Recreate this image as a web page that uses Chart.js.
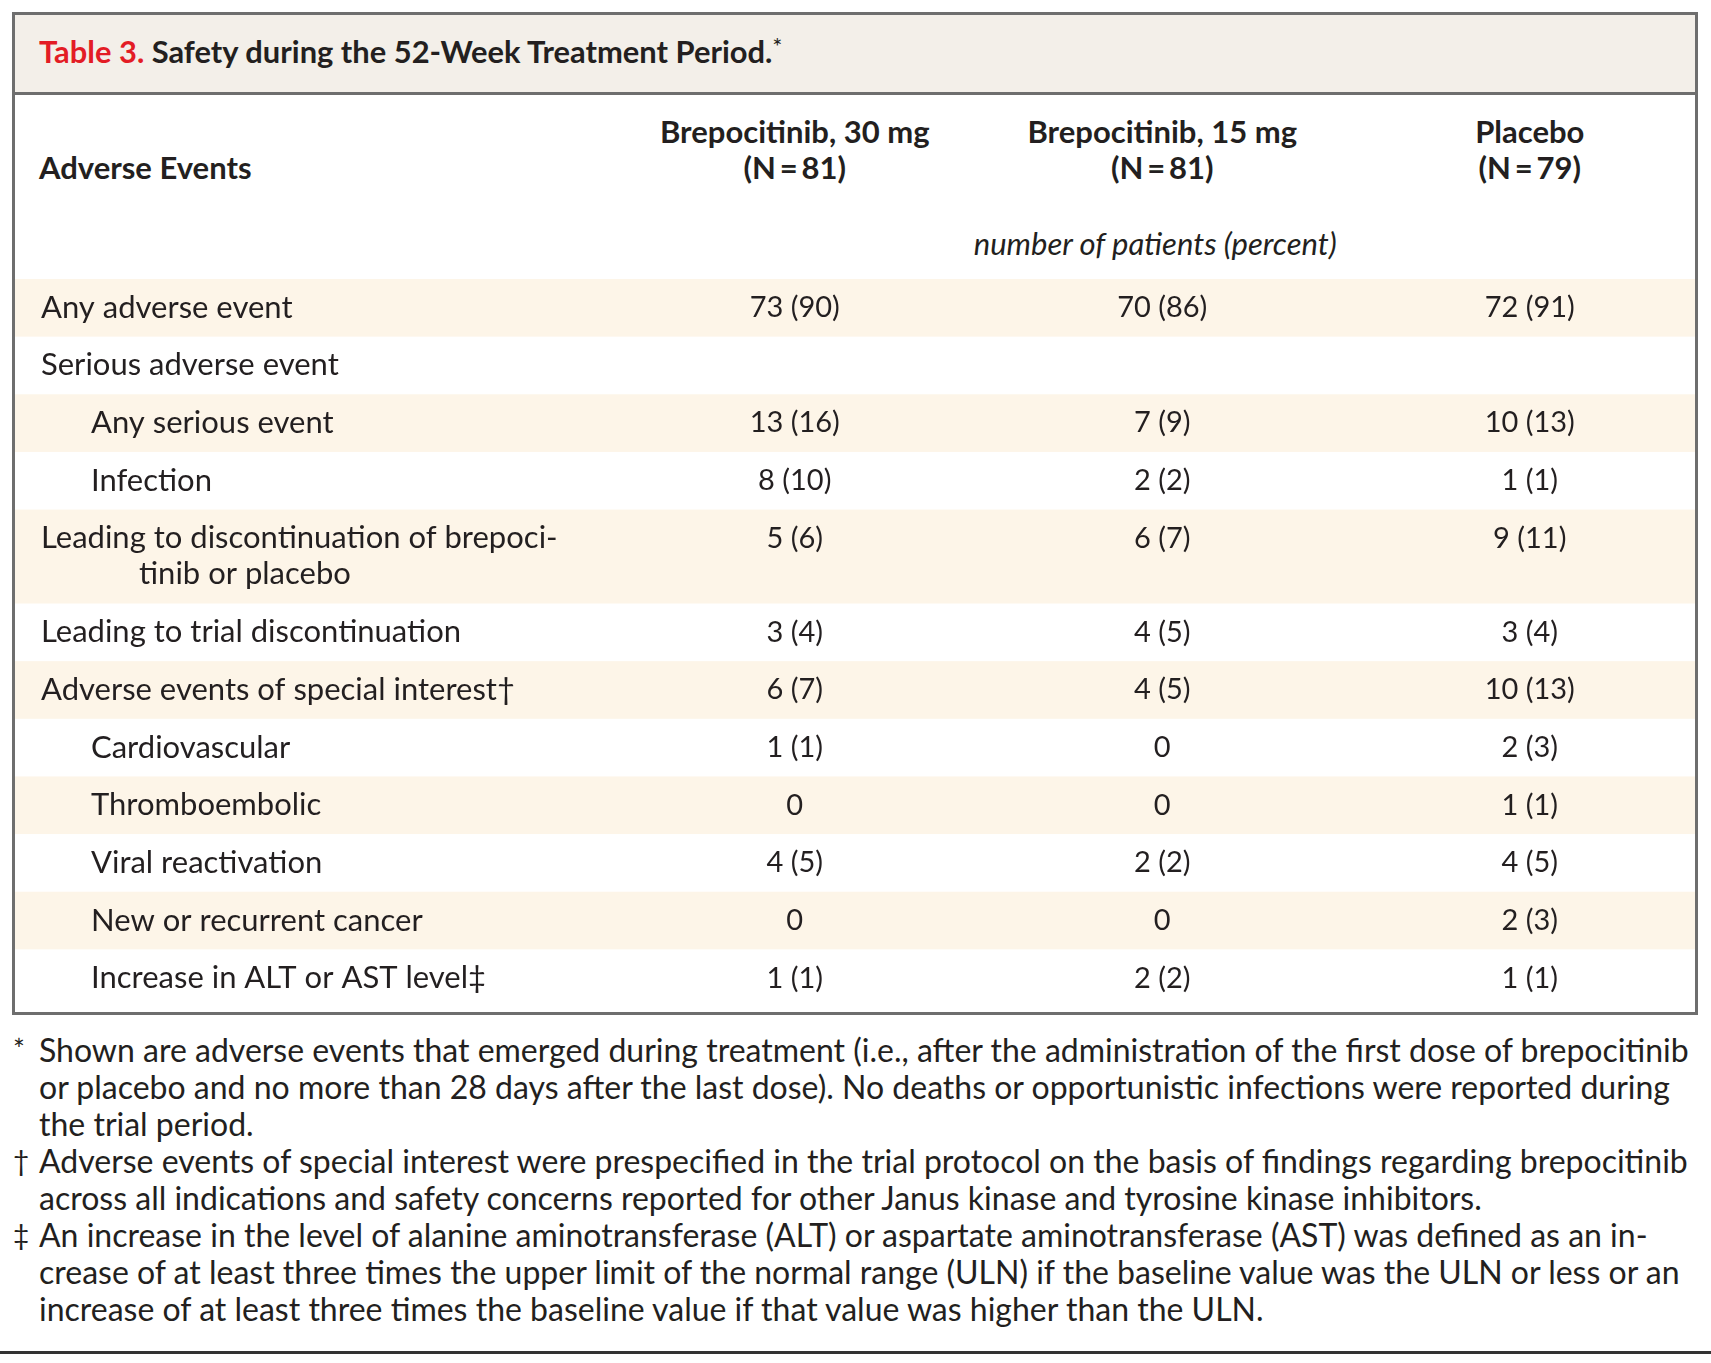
<!DOCTYPE html>
<html>
<head>
<meta charset="utf-8">
<script src="https://cdn.jsdelivr.net/npm/chart.js@4.4.1/dist/chart.umd.min.js"></script>
<style>
  html, body { margin: 0; padding: 0; overflow: hidden; background: #fff; }
  body { position: relative; width: 1711px; height: 1363px; font-family: Lato, "Open Sans", sans-serif; color: #231f20; }
  #box { position: absolute; left: 12px; top: 12px; width: 1686px; height: 1003px; border: 3px solid #6e6e6e; box-sizing: border-box; }
  #band { position: absolute; left: 0; top: 0; right: 0; height: 77px; background: #f3efe9; border-bottom: 3px solid #6e6e6e; }
  #title { position: absolute; left: 39px; top: 31px; font-size: 31px; line-height: 40px; font-weight: 700; white-space: nowrap; transform-origin: 0 50%; }
  #title .num { color: #e31c25; }
  #title sup { font-size: 24px; font-weight: 400; vertical-align: 8px; line-height: 0; }
  .hdr { position: absolute; font-size: 31px; line-height: 36px; font-weight: 700; white-space: nowrap; }
  .colhdr { width: 500px; text-align: center; top: 113px; }
  #note { position: absolute; top: 225px; width: 500px; text-align: center; font-style: italic; font-size: 31px; line-height: 36px; white-space: nowrap; }
  #chartWrap { position: absolute; left: 0; top: 279px; width: 1716px; height: 728px; }
  #foot { position: absolute; left: 13px; top: 1031px; font-size: 32px; line-height: 37px; }
  #foot .ln { position: relative; padding-left: 26px; white-space: nowrap; }
  #foot .mk { position: absolute; left: 0; top: 0; font-size: 28px; }
  #rule { position: absolute; left: 0; top: 1351px; width: 1711px; height: 3px; background: #333; }
</style>
</head>
<body>
<div id="box"><div id="band"></div></div>
<div id="title"><span class="num">Table 3.</span> Safety during the 52-Week Treatment Period.<sup>*</sup></div>
<div class="hdr" style="left:39px; top:149px;">Adverse Events</div>
<div id="colHeaders"></div>
<div id="note">number of patients (percent)</div>
<div id="chartWrap"><canvas id="tableChart" width="1716" height="728"></canvas></div>
<div id="foot"></div>
<div id="rule"></div>

<script>
// Treatment groups (columns)
const groups = ['Brepocitinib, 30 mg', 'Brepocitinib, 15 mg', 'Placebo'];
const groupN = [81, 81, 79];

// Rows: label lines and nesting level
const rowLabels = [
    ['Any adverse event'],
    ['Serious adverse event'],
    ['Any serious event'],
    ['Infection'],
    ['Leading to discontinuation of brepoci-', 'tinib or placebo'],
    ['Leading to trial discontinuation'],
    ['Adverse events of special interest\u2020'],
    ['Cardiovascular'],
    ['Thromboembolic'],
    ['Viral reactivation'],
    ['New or recurrent cancer'],
    ['Increase in ALT or AST level\u2021']
];
const rowLevel = [0, 0, 1, 1, 0, 0, 0, 1, 1, 1, 1, 1];

// Number of patients and percent per group (null = no entry)
const brepo30Count = [73, null, 13, 8, 5, 3, 6, 1, 0, 4, 0, 1];
const brepo30Pct   = [90, null, 16, 10, 6, 4, 7, 1, null, 5, null, 1];
const brepo15Count = [70, null, 7, 2, 6, 4, 4, 0, 0, 2, 0, 2];
const brepo15Pct   = [86, null, 9, 2, 7, 5, 5, null, null, 2, null, 2];
const placeboCount = [72, null, 10, 1, 9, 3, 10, 2, 1, 4, 2, 1];
const placeboPct   = [91, null, 13, 1, 11, 4, 13, 3, 1, 5, 3, 1];

const footnotes = [
    { mark: '*', lines: [
        'Shown are adverse events that emerged during treatment (i.e., after the administration of the first dose of brepocitinib',
        'or placebo and no more than 28 days after the last dose). No deaths or opportunistic infections were reported during',
        'the trial period.'] },
    { mark: '\u2020', lines: [
        'Adverse events of special interest were prespecified in the trial protocol on the basis of findings regarding brepocitinib',
        'across all indications and safety concerns reported for other Janus kinase and tyrosine kinase inhibitors.'] },
    { mark: '\u2021', lines: [
        'An increase in the level of alanine aminotransferase (ALT) or aspartate aminotransferase (AST) was defined as an in-',
        'crease of at least three times the upper limit of the normal range (ULN) if the baseline value was the ULN or less or an',
        'increase of at least three times the baseline value if that value was higher than the ULN.'] }
];

// Layout
const LINE_STEP = 0.61;      // extra label line, in row units
const LABEL_X = 41;
const INDENT = 50;
const WRAP_INDENT = 98;
const BOX_LEFT = 15, BOX_RIGHT = 1695;
const STRIPE = '#fdf5e8';
const TEXT = '#231f20';
const LABEL_FONT = '31px Lato, "Open Sans", sans-serif';
const VALUE_FONT = '29px Lato, "Open Sans", sans-serif';

const groupCounts = [brepo30Count, brepo15Count, placeboCount];
const groupPcts = [brepo30Pct, brepo15Pct, placeboPct];

// row start positions in row units
const rowUnits = rowLabels.map(l => 1 + (l.length - 1) * 0.63);
const rowStart = [];
rowUnits.reduce((acc, u, i) => { rowStart[i] = acc; return acc + u; }, 0);
const totalUnits = rowUnits.reduce((a, b) => a + b, 0);

function cellText(count, pct) {
    if (count === null) return '';
    return pct === null ? String(count) : `${count} (${pct})`;
}

const stripePlugin = {
    id: 'stripes',
    beforeDatasetsDraw(chart) {
        const { ctx, scales: { y } } = chart;
        ctx.save();
        ctx.fillStyle = STRIPE;
        rowLabels.forEach((_, i) => {
            if (i % 2 !== 0) return;
            const y0 = y.getPixelForValue(rowStart[i]);
            const y1 = y.getPixelForValue(rowStart[i] + rowUnits[i]);
            ctx.fillRect(BOX_LEFT, y0, BOX_RIGHT - BOX_LEFT, y1 - y0);
        });
        ctx.restore();
    }
};

const textPlugin = {
    id: 'cellText',
    afterDatasetsDraw(chart) {
        const { ctx, scales: { y } } = chart;
        ctx.save();
        ctx.fillStyle = TEXT;
        ctx.textBaseline = 'middle';

        // row labels
        ctx.font = LABEL_FONT;
        ctx.textAlign = 'left';
        rowLabels.forEach((lines, i) => {
            lines.forEach((line, k) => {
                const x = LABEL_X + rowLevel[i] * INDENT + (k > 0 ? WRAP_INDENT : 0);
                ctx.fillText(line, x, y.getPixelForValue(rowStart[i] + 0.5 + k * LINE_STEP));
            });
        });

        // cell values at the point positions
        ctx.font = VALUE_FONT;
        ctx.textAlign = 'center';
        chart.data.datasets.forEach((ds, gi) => {
            chart.getDatasetMeta(gi).data.forEach((pt, i) => {
                const txt = cellText(groupCounts[gi][i], groupPcts[gi][i]);
                if (txt) ctx.fillText(txt, pt.x, pt.y);
            });
        });
        ctx.restore();
    }
};

const chart = new Chart(document.getElementById('tableChart').getContext('2d'), {
    type: 'scatter',
    data: {
        datasets: groups.map((g, gi) => ({
            label: g,
            data: rowLabels.map((_, i) => ({ x: gi, y: rowStart[i] + 0.5 })),
            pointRadius: 0,
            pointHoverRadius: 0
        }))
    },
    options: {
        responsive: false,
        animation: false,
        events: [],
        layout: { padding: { left: 611, right: 2.5, top: 0, bottom: 0 } },
        scales: {
            x: { type: 'linear', min: -0.5, max: 2.5, display: false },
            y: { type: 'linear', reverse: true, min: 0, max: totalUnits, display: false }
        },
        plugins: { legend: { display: false }, tooltip: { enabled: false } }
    },
    plugins: [stripePlugin, textPlugin]
});

// column headers aligned on the chart's x scale
const hdrWrap = document.getElementById('colHeaders');
groups.forEach((g, gi) => {
    const px = chart.scales.x.getPixelForValue(gi);
    const d = document.createElement('div');
    d.className = 'hdr colhdr';
    d.style.left = (px - 250) + 'px';
    d.innerHTML = `${g}<br>(N\u2009=\u2009${groupN[gi]})`;
    hdrWrap.appendChild(d);
});
document.getElementById('note').style.left = (chart.scales.x.getPixelForValue(1) - 257) + 'px';

// footnotes
const foot = document.getElementById('foot');
footnotes.forEach(fn => {
    fn.lines.forEach((line, k) => {
        const d = document.createElement('div');
        d.className = 'ln';
        d.innerHTML = (k === 0 ? `<span class="mk">${fn.mark}</span>` : '') + line;
        foot.appendChild(d);
    });
});

// condense title to the reference width
const title = document.getElementById('title');
title.style.transform = `scaleX(${744 / title.offsetWidth})`;
</script>
</body>
</html>
